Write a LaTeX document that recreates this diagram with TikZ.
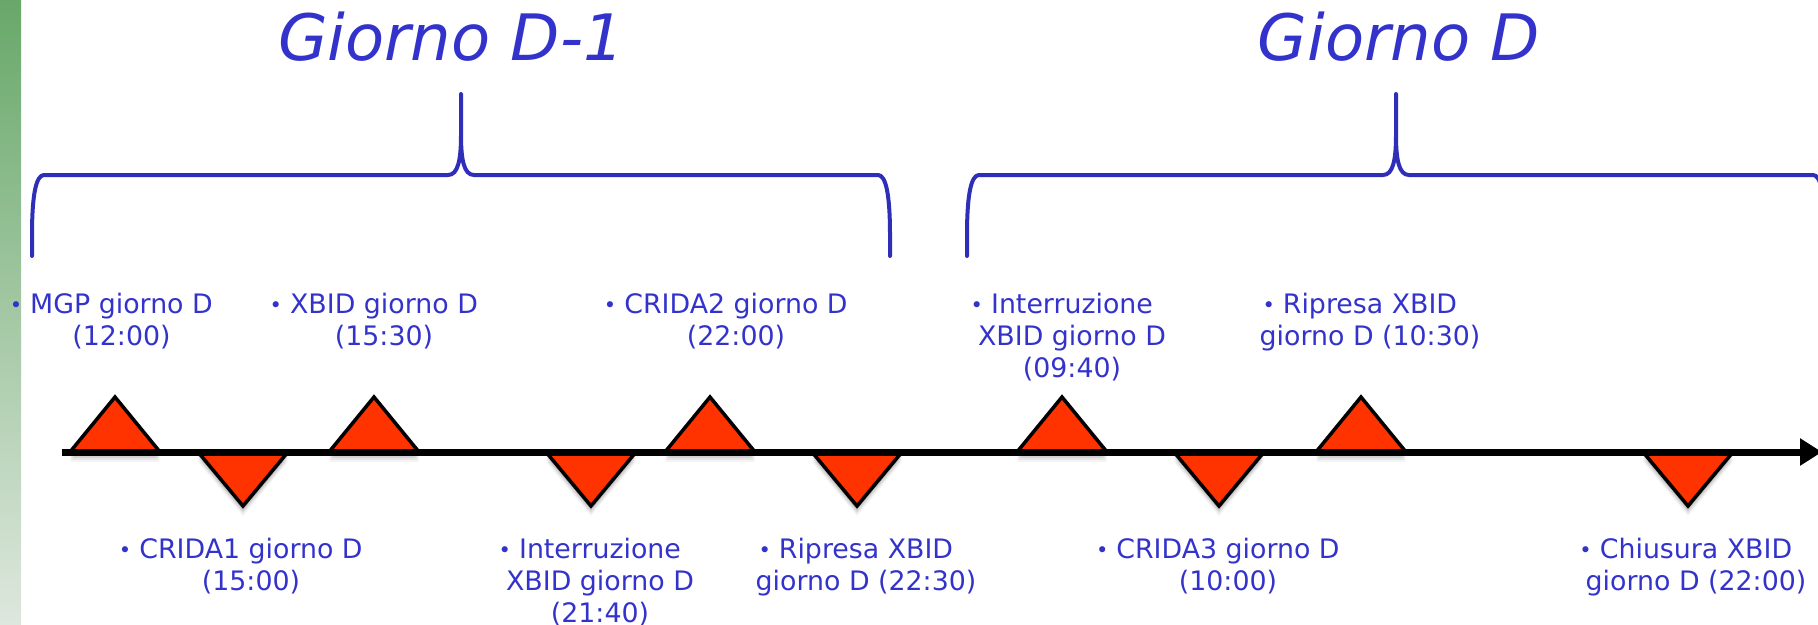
\documentclass[tikz,border=0pt]{standalone}
\usepackage{fontspec}
\setmainfont{DejaVu Sans}
\usetikzlibrary{arrows.meta}
\definecolor{txtblue}{RGB}{51,51,204}
\definecolor{brblue}{RGB}{46,46,184}
\definecolor{trired}{RGB}{255,51,0}
\definecolor{gtop}{RGB}{104,168,105}
\definecolor{gbot}{RGB}{222,231,222}
\newcommand\bul{\llap{{\fontsize{21}{21}\selectfont\raisebox{1.5pt}{•}}\hspace{8pt}}}
\newcommand\upTri[2]{%
  \foreach \sh/\op in {2/0.12,4/0.10,6/0.08,8/0.06,10/0.04}{%
    \fill[black,opacity=\op] ({#2-45},{452+\sh}) -- (#2,{397+\sh}) -- ({#2+45},{452+\sh}) -- cycle;}
  \filldraw[tri] ({#2-45},452) -- (#2,397) coordinate (#1) -- ({#2+45},452) -- cycle;}
\newcommand\dnTri[2]{%
  \foreach \sh/\op in {2/0.12,4/0.10,6/0.08,8/0.06,10/0.04}{%
    \fill[black,opacity=\op] ({#2-45},{452+\sh}) -- (#2,{506+\sh}) -- ({#2+45},{452+\sh}) -- cycle;}
  \filldraw[tri] ({#2-45},452) -- (#2,506) coordinate (#1) -- ({#2+45},452) -- cycle;}
\begin{document}
\begin{tikzpicture}[x=1pt,y=-1pt,
  lbl/.style={text=txtblue, font=\fontsize{26.8}{32}\selectfont, align=center, inner sep=0pt, anchor=north},
  ttl/.style={text=txtblue, font=\fontsize{64}{64}\selectfont\itshape, inner sep=0pt, anchor=base},
  brace/.style={draw=brblue, line width=4pt, line cap=round, line join=round},
  tri/.style={fill=trired, draw=black, line width=3.5pt, line join=miter},
  tline/.style={draw=black, line width=7pt, -{Triangle[length=22pt,width=26pt]}}]
\useasboundingbox (0,0) rectangle (1818,624);
% left green bar
\shade[top color=gtop, bottom color=gbot] (0,0) rectangle (21,624);
% braces
\foreach \dx in {0,935}{
  \begin{scope}[xshift=\dx pt]
  \draw[brace] (32,256) -- (32,235) .. controls (32,195) and (36,175) .. (44,175)
     -- (448,175) .. controls (458,175) and (461,160) .. (461,135) -- (461,94)
     (461,135) .. controls (461,160) and (464,175) .. (474,175)
     -- (878,175) .. controls (886,175) and (890,195) .. (890,235) -- (890,256);
  \end{scope}}
% titles
\node[ttl] (t1) at (451,60) {Giorno D-1};
\node[ttl] (t2) at (1399,60) {Giorno D};
% labels above
\node[lbl] (l1) at (121.5,293) {\bul MGP giorno D\\(12:00)};
\node[lbl] (l2) at (384,293) {\bul XBID giorno D\\(15:30)};
\node[lbl] (l3) at (736,293) {\bul CRIDA2 giorno D\\(22:00)};
\node[lbl] (l4) at (1072,293) {\bul Interruzione\\XBID giorno D\\(09:40)};
\node[lbl] (l5) at (1370,293) {\bul Ripresa XBID\\giorno D (10:30)};
% labels below
\node[lbl] (b1) at (251,538) {\bul CRIDA1 giorno D\\(15:00)};
\node[lbl] (b2) at (600,538) {\bul Interruzione\\XBID giorno D\\(21:40)};
\node[lbl] (b3) at (866,538) {\bul Ripresa XBID\\giorno D (22:30)};
\node[lbl] (b4) at (1228,538) {\bul CRIDA3 giorno D\\(10:00)};
\node[lbl] (b5) at (1696,538) {\bul Chiusura XBID\\giorno D (22:00)};
% triangles
\upTri{u1}{115}
\upTri{u2}{374}
\upTri{u3}{710}
\upTri{u4}{1062}
\upTri{u5}{1361}
\dnTri{d1}{243}
\dnTri{d2}{591}
\dnTri{d3}{857}
\dnTri{d4}{1219}
\dnTri{d5}{1688}
% timeline
\coordinate (tstart) at (62,452);
\coordinate (tend) at (1822,452);
\draw[tline] (tstart) -- (tend);
\end{tikzpicture}
\end{document}
